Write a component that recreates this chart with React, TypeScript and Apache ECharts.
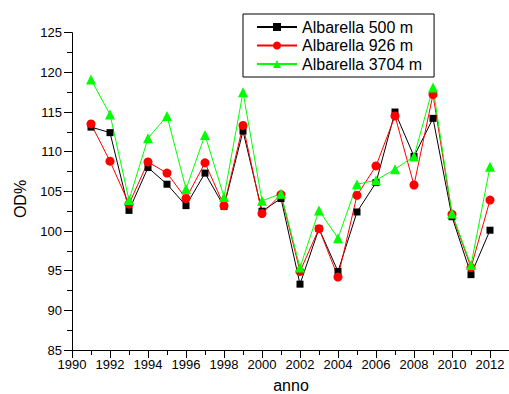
import React, { useEffect, useRef } from "react";
import * as echarts from "echarts";

const years = [1991, 1992, 1993, 1994, 1995, 1996, 1997, 1998, 1999, 2000, 2001, 2002, 2003, 2004, 2005, 2006, 2007, 2008, 2009, 2010, 2011, 2012];
const s500 = [113.1, 112.4, 102.6, 108.0, 105.9, 103.2, 107.3, 103.1, 112.6, 102.5, 104.1, 93.3, 100.3, 94.9, 102.4, 106.1, 115.0, 109.4, 114.2, 101.8, 94.5, 100.1];
const s926 = [113.5, 108.8, 103.4, 108.7, 107.3, 104.1, 108.6, 103.2, 113.3, 102.2, 104.6, 94.9, 100.3, 94.2, 104.5, 108.2, 114.5, 105.8, 117.2, 102.1, 95.4, 103.9];
const s3704 = [119.1, 114.7, 103.9, 111.7, 114.5, 105.3, 112.1, 104.3, 117.5, 103.8, 104.7, 95.4, 102.6, 99.1, 105.9, 106.4, 107.8, 109.4, 118.1, 102.2, 95.7, 108.1];
const seriesNames = ["Albarella 500 m", "Albarella 926 m", "Albarella 3704 m"];

const FONT = "Arial, 'Liberation Sans', sans-serif";

export default function App() {
  const ref = useRef<HTMLDivElement>(null);
  useEffect(() => {
    document.body.style.margin = "0";
    const chart = echarts.init(ref.current!, undefined, { renderer: "svg" });
    const mk = (name: string, vals: number[], color: string, symbol: string, size: number) => ({
      type: "line",
      name,
      data: years.map((y, i) => [y, vals[i]]),
      symbol,
      symbolSize: size,
      lineStyle: { color, width: 1 },
      itemStyle: { color },
      emphasis: { disabled: true },
    });
    chart.setOption({
      animation: false,
      backgroundColor: "#ffffff",
      textStyle: { fontFamily: FONT },
      grid: { left: 72, top: 32.7, width: 440, height: 317.3 },
      xAxis: {
        type: "value",
        min: 1990,
        max: 2013,
        interval: 2,
        axisLine: { lineStyle: { color: "#000", width: 1 } },
        axisTick: { show: true, length: 8, inside: false, lineStyle: { color: "#000" } },
        minorTick: { show: true, splitNumber: 2, length: 5, lineStyle: { color: "#000" } },
        splitLine: { show: false },
        axisLabel: {
          color: "#000",
          fontSize: 13,
          fontFamily: FONT,
          margin: 8,
          showMaxLabel: false,
          formatter: (v: number) => String(Math.round(v)),
        },
      },
      yAxis: {
        type: "value",
        min: 85,
        max: 125,
        interval: 5,
        axisLine: { show: true, lineStyle: { color: "#000", width: 1 } },
        axisTick: { show: true, length: 8, inside: false, lineStyle: { color: "#000" } },
        minorTick: { show: true, splitNumber: 2, length: 5, lineStyle: { color: "#000" } },
        splitLine: { show: false },
        axisLabel: { color: "#000", fontSize: 13, fontFamily: FONT, margin: 10 },
      },
      legend: {
        orient: "vertical",
        left: 243,
        top: 14,
        padding: [5, 12, 5, 13],
        itemWidth: 40,
        itemHeight: 10,
        itemGap: 2.5,
        backgroundColor: "#fff",
        borderColor: "#000",
        borderWidth: 1,
        borderRadius: 0,
        textStyle: { color: "#000", fontSize: 16, fontFamily: FONT, padding: [0, 0, 0, 0] },
        data: seriesNames,
      },
      series: [
        mk(seriesNames[0], s500, "#000000", "rect", 7),
        mk(seriesNames[1], s926, "#ff0000", "circle", 9),
        mk(seriesNames[2], s3704, "#00ff00", "triangle", 10),
      ],
      graphic: [
        {
          type: "text",
          x: 20,
          y: 199,
          rotation: Math.PI / 2,
          style: { text: "OD%", font: `16px ${FONT}`, fill: "#000", align: "center", verticalAlign: "middle" },
        },
        {
          type: "text",
          x: 291,
          y: 385,
          style: { text: "anno", font: `16px ${FONT}`, fill: "#000", align: "center", verticalAlign: "middle" },
        },
      ],
    });
    return () => chart.dispose();
  }, []);
  return <div ref={ref} style={{ width: 509, height: 394 }} />;
}
